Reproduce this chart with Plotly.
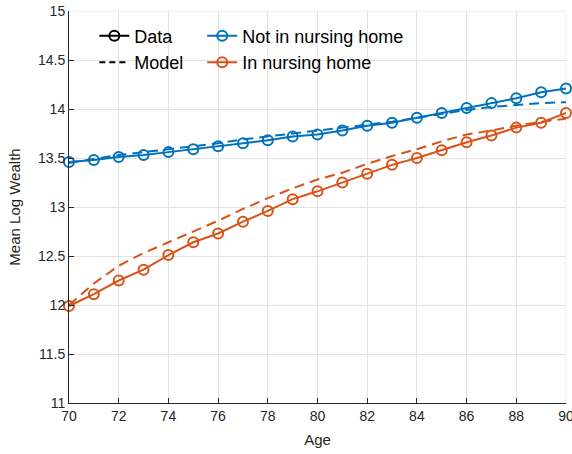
import plotly.graph_objects as go

ages = list(range(70, 91))
not_nh_data = [13.46, 13.48, 13.51, 13.53, 13.56, 13.59, 13.62, 13.65, 13.68, 13.72, 13.74,
               13.78, 13.83, 13.86, 13.91, 13.96, 14.01, 14.06, 14.11, 14.17, 14.21]
not_nh_model = [13.45, 13.49, 13.53, 13.56, 13.59, 13.62, 13.65, 13.69, 13.72, 13.75, 13.78,
                13.81, 13.84, 13.87, 13.91, 13.95, 13.99, 14.02, 14.04, 14.06, 14.07]
nh_data = [11.99, 12.11, 12.25, 12.36, 12.51, 12.64, 12.73, 12.85, 12.96, 13.08, 13.16,
           13.25, 13.34, 13.43, 13.50, 13.58, 13.66, 13.73, 13.81, 13.86, 13.96]
nh_model = [12.00, 12.22, 12.40, 12.53, 12.64, 12.75, 12.86, 12.98, 13.09, 13.19, 13.28,
            13.35, 13.44, 13.52, 13.59, 13.67, 13.74, 13.78, 13.83, 13.87, 13.90]

yticks = [11, 11.5, 12, 12.5, 13, 13.5, 14, 14.5, 15]
ytick_text = ["11", "11.5", "12", "12.5", "13", "13.5", "14", "14.5", "15"]
xticks = list(range(70, 91, 2))

BLUE = "#0072BD"
ORANGE = "#D95319"
GRID = "#e3e3e3"
FONT = "Liberation Sans, Arial, sans-serif"
DASH = "10px,6px"

fig = go.Figure()

def data_trace(y, color):
    return go.Scatter(x=ages, y=y, mode="lines+markers", showlegend=False, cliponaxis=False,
                      line=dict(color=color, width=2),
                      marker=dict(symbol="circle-open", size=10, color=color,
                                  line=dict(width=2, color=color)))

def model_trace(y, color):
    return go.Scatter(x=ages, y=y, mode="lines", showlegend=False,
                      line=dict(color=color, width=2, dash=DASH))

fig.add_trace(model_trace(not_nh_model, BLUE))
fig.add_trace(model_trace(nh_model, ORANGE))
fig.add_trace(data_trace(not_nh_data, BLUE))
fig.add_trace(data_trace(nh_data, ORANGE))

# legend entries
fig.add_trace(go.Scatter(x=[None], y=[None], mode="lines+markers", name="Data", legend="legend",
                         line=dict(color="black", width=2),
                         marker=dict(symbol="circle-open", size=10, color="black",
                                     line=dict(width=2, color="black"))))
fig.add_trace(go.Scatter(x=[None], y=[None], mode="lines", name="Model", legend="legend",
                         line=dict(color="black", width=2, dash="6px,4px")))
fig.add_trace(go.Scatter(x=[None], y=[None], mode="lines+markers", name="Not in nursing home",
                         legend="legend2", line=dict(color=BLUE, width=2),
                         marker=dict(symbol="circle-open", size=10, color=BLUE,
                                     line=dict(width=2, color=BLUE))))
fig.add_trace(go.Scatter(x=[None], y=[None], mode="lines+markers", name="In nursing home",
                         legend="legend2", line=dict(color=ORANGE, width=2),
                         marker=dict(symbol="circle-open", size=10, color=ORANGE,
                                     line=dict(width=2, color=ORANGE))))

# grid lines at the upper and right range ends
fig.add_shape(type="line", xref="paper", yref="y", x0=0, x1=1, y0=yticks[-1], y1=yticks[-1],
              line=dict(color=GRID, width=1), layer="below")
fig.add_shape(type="line", xref="x", yref="paper", x0=xticks[-1], x1=xticks[-1], y0=0, y1=1,
              line=dict(color=GRID, width=1), layer="below")

legend_common = dict(bgcolor="rgba(0,0,0,0)", borderwidth=0,
                     font=dict(family=FONT, size=18, color="black"),
                     orientation="v", xanchor="left", yanchor="top",
                     tracegroupgap=0, itemwidth=30)

fig.update_layout(
    width=572, height=454,
    margin=dict(l=69, r=6, t=11, b=51, autoexpand=False),
    paper_bgcolor="white", plot_bgcolor="white",
    font=dict(family=FONT, size=14, color="#262626"),
    legend=dict(x=0.051, y=0.983, **legend_common),
    legend2=dict(x=0.268, y=0.983, **legend_common),
    xaxis=dict(range=[70, 90], tickvals=xticks, ticks="inside", ticklen=5,
               tickcolor="#262626", showline=True, linecolor="#262626", linewidth=1,
               showgrid=True, gridcolor=GRID, gridwidth=1, zeroline=False,
               automargin=False, ticklabeloverflow="allow",
               title=dict(text="Age", font=dict(size=15), standoff=11),
               tickfont=dict(size=14)),
    yaxis=dict(range=[11, 15], tickvals=yticks, ticktext=ytick_text, ticks="inside",
               ticklen=5, tickcolor="#262626", showline=True, linecolor="#262626",
               linewidth=1, showgrid=True, gridcolor=GRID, gridwidth=1,
               zeroline=False, automargin=False, ticklabeloverflow="allow",
               title=dict(text="Mean Log Wealth", font=dict(size=15), standoff=13),
               tickfont=dict(size=14)),
)

fig.write_html("out.html", config={"displayModeBar": False},
               post_script="document.body.style.margin='0';document.body.style.overflow='hidden';")
